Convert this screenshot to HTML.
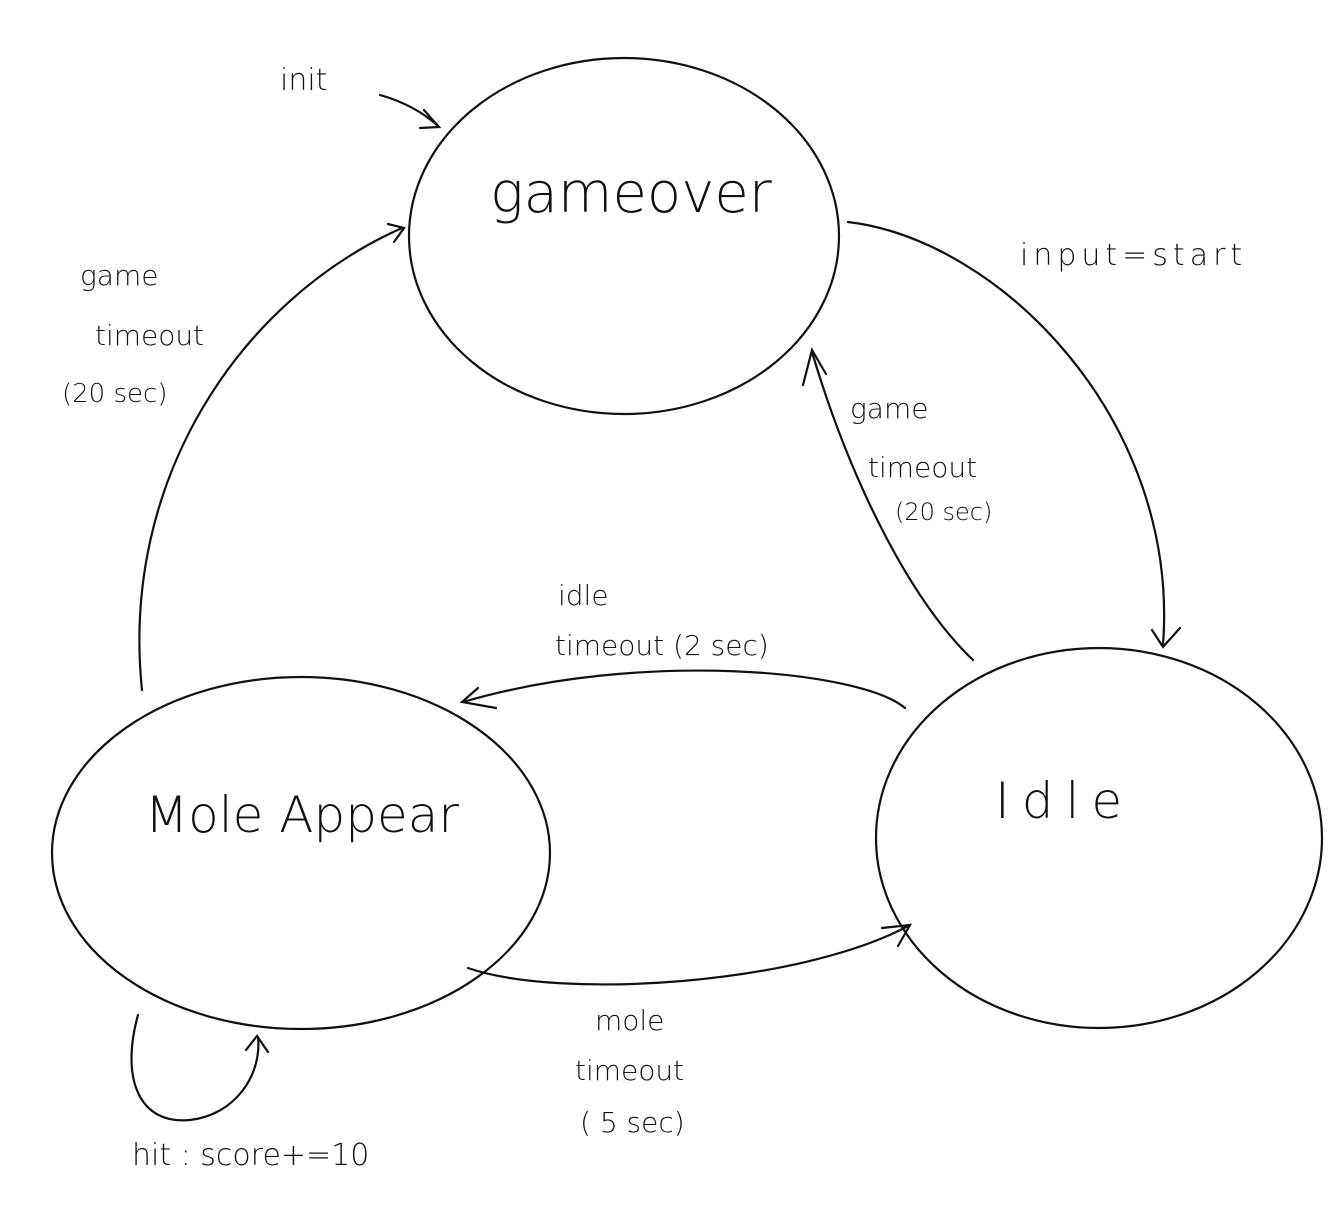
<!DOCTYPE html>
<html><head><meta charset="utf-8"><style>
html,body{margin:0;padding:0;background:#fff;}
svg{display:block;}
text{font-family:"DejaVu Sans","Liberation Sans",sans-serif;fill:#111;font-weight:300;}
</style></head><body>
<svg width="1335" height="1214" viewBox="0 0 1335 1214" xmlns="http://www.w3.org/2000/svg">
<g fill="none" stroke="#111" stroke-width="2.2" stroke-linecap="round">
<ellipse cx="624" cy="236" rx="215" ry="178"/>
<ellipse cx="301" cy="853" rx="249" ry="176"/>
<ellipse cx="1099" cy="838" rx="223" ry="190"/>
<path d="M380 95 Q415 105 438 126"/>
<path d="M424 110 L439 127 L420 128"/>
<path d="M142 690 C120 480 240 300 402 228"/>
<path d="M388 224 L404 228 L394 242"/>
<path d="M848 222 C1000 240 1180 420 1163 645"/>
<path d="M1152 630 L1163 647 L1180 628"/>
<path d="M973 660 C910 600 850 480 812 352"/>
<path d="M803 385 L812 350 L826 374"/>
<path d="M905 708 C860 670 640 650 463 702"/>
<path d="M478 688 L462 702 L496 708"/>
<path d="M468 968 C560 1000 800 985 910 925"/>
<path d="M882 928 L910 925 L898 946"/>
<path d="M138 1015 C120 1080 140 1125 190 1120 C235 1115 262 1075 258 1037"/>
<path d="M246 1050 L257 1036 L268 1052"/>
</g>
<text x="490" y="212" font-size="56">gameover</text>
<text x="145" y="832" font-size="50">Mole Appear</text>
<text x="995" y="818" font-size="50" letter-spacing="12">Idle</text>
<text x="280" y="90" font-size="30">init</text>
<text x="1020" y="265" font-size="30" letter-spacing="5">input=start</text>
<text x="80" y="285" font-size="28">game</text>
<text x="95" y="345" font-size="28">timeout</text>
<text x="62" y="402" font-size="26">(20 sec)</text>
<text x="850" y="418" font-size="28">game</text>
<text x="868" y="477" font-size="28">timeout</text>
<text x="895" y="520" font-size="24">(20 sec)</text>
<text x="558" y="605" font-size="28">idle</text>
<text x="555" y="655" font-size="28">timeout (2 sec)</text>
<text x="595" y="1030" font-size="28">mole</text>
<text x="575" y="1080" font-size="28">timeout</text>
<text x="580" y="1132" font-size="28">( 5 sec)</text>
<text x="132" y="1165" font-size="30">hit : score+=10</text>
</svg>
</body></html>
